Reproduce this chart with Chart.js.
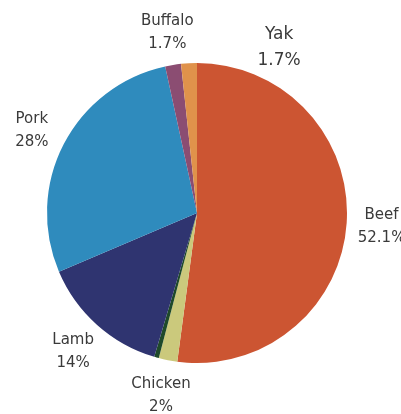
<!DOCTYPE html>
<html><head><meta charset="utf-8">
<script src="https://cdn.jsdelivr.net/npm/chart.js@4"></script>
<style>html,body{margin:0;padding:0;background:#fff;}#wrap{width:401px;height:414px;}</style>
</head><body><div id="wrap"><canvas id="c" width="401" height="414"></canvas></div>
<script>
const categories = ["Beef", "Chicken", "Other", "Lamb", "Pork", "Buffalo", "Yak"];
const shares = [52.1, 2, 0.5, 14, 28, 1.7, 1.7];
const showLabel = [true, true, false, true, true, true, true];
const colors = ["#CC5532", "#CBC97C", "#1F4A2A", "#2F3470", "#2F8BBD", "#8B4D72", "#E0924B"];

const labelPlugin = {
  id: 'outLabels',
  afterDatasetsDraw(chart, args, opts) {
    const ctx = chart.ctx;
    const meta = chart.getDatasetMeta(0);
    meta.data.forEach((arc, i) => {
      if (!showLabel[i]) return;
      const mid = (arc.startAngle + arc.endAngle) / 2;
      const r = arc.outerRadius + opts.gap;
      const off = (opts.offsets && opts.offsets[categories[i]]) || {};
      const x = arc.x + Math.cos(mid) * r + (off.dx || 0);
      const y = arc.y + Math.sin(mid) * r + (off.dy || 0);
      const size = off.size || opts.size;
      ctx.save();
      ctx.fillStyle = '#3a3a3a';
      ctx.font = size + 'px "DejaVu Sans", sans-serif';
      ctx.textAlign = 'center';
      ctx.textBaseline = 'middle';
      const lh = size * 1.52;
      ctx.fillText(categories[i], x, y - lh / 2);
      ctx.fillText(shares[i] + '%', x, y + lh / 2);
      ctx.restore();
    });
  }
};

new Chart(document.getElementById('c'), {
  type: 'pie',
  data: {
    labels: categories,
    datasets: [{ data: shares, backgroundColor: colors, borderWidth: 0 }]
  },
  options: {
    responsive: false,
    animation: false,
    layout: { padding: { left: 47, right: 54, top: 63, bottom: 51 } },
    plugins: {
      legend: { display: false },
      tooltip: { enabled: false },
      outLabels: { gap: 36, size: 15, offsets: {
        Beef: { dx: -1, dy: 1 },
        Pork: { dy: 3 },
        Buffalo: { dy: 3 },
        Yak: { dx: 92, dy: 20, size: 17 } } }
    }
  },
  plugins: [labelPlugin]
});
</script>
</body></html>
